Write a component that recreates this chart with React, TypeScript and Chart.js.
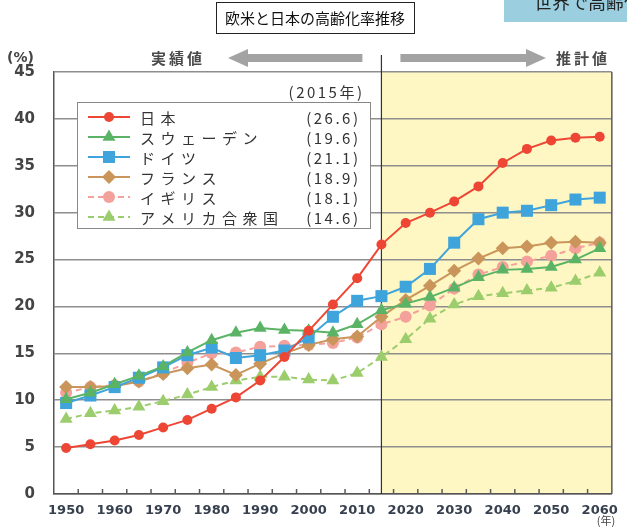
import React, { useEffect, useRef } from "react";
import { Chart, registerables } from "chart.js";
import { drawPoint } from "chart.js/helpers";

Chart.register(...registerables);

// 65歳以上人口の割合（%）
const years = [
  "1950", "1955", "1960", "1965", "1970", "1975", "1980", "1985", "1990", "1995", "2000", "2005",
  "2010", "2015", "2020", "2025", "2030", "2035", "2040", "2045", "2050", "2055", "2060",
];
const japan = [4.9, 5.3, 5.7, 6.3, 7.1, 7.9, 9.1, 10.3, 12.1, 14.6, 17.4, 20.2, 23.0, 26.6, 28.9, 30.0, 31.2, 32.8, 35.3, 36.8, 37.7, 38.0, 38.1];
const sweden = [10.1, 10.8, 11.7, 12.6, 13.6, 15.1, 16.4, 17.2, 17.7, 17.5, 17.4, 17.2, 18.1, 19.6, 20.3, 21.0, 22.0, 23.1, 23.9, 24.0, 24.2, 25.0, 26.2];
const germany = [9.7, 10.5, 11.4, 12.4, 13.5, 14.8, 15.6, 14.5, 14.8, 15.3, 16.7, 18.9, 20.6, 21.1, 22.1, 24.0, 26.8, 29.3, 30.0, 30.2, 30.8, 31.4, 31.6];
const france = [11.4, 11.4, 11.5, 12.0, 12.8, 13.4, 13.8, 12.7, 13.9, 15.0, 15.9, 16.5, 16.8, 18.9, 20.7, 22.2, 23.8, 25.1, 26.2, 26.4, 26.8, 26.9, 26.8];
const uk = [10.8, 11.4, 11.6, 12.0, 12.9, 14.0, 15.0, 15.1, 15.7, 15.8, 15.9, 16.1, 16.7, 18.1, 18.9, 20.1, 21.9, 23.4, 24.2, 24.8, 25.4, 26.2, 26.8];
const usa = [8.0, 8.6, 8.9, 9.3, 9.9, 10.6, 11.4, 12.1, 12.5, 12.5, 12.2, 12.1, 12.9, 14.6, 16.5, 18.7, 20.2, 21.1, 21.4, 21.7, 22.0, 22.7, 23.6];

const countryNames = ["日本", "スウェーデン", "ドイツ", "フランス", "イギリス", "アメリカ合衆国"];
const Y_MIN = 0;
const Y_MAX = 45;
const Y_STEP = 5;
const BASE_YEAR = "2015";

const TITLE = "欧米と日本の高齢化率推移";
const CORNER_TEXT = "世界で高齢化";
const ACTUAL_LABEL = "実績値";
const FORECAST_LABEL = "推計値";
const UNIT_Y = "(%)";
const UNIT_X = "(年)";

const JP = "'Noto Sans CJK JP', sans-serif";
const NUM = "'DejaVu Sans', sans-serif";

const seriesStyles = [
  { color: "#EE4634", point: "circle", radius: 5, dash: [] as number[] },
  { color: "#5BB466", point: "triangle", radius: 7.5, dash: [] as number[] },
  { color: "#3FA4DC", point: "rect", radius: 8.5, dash: [] as number[] },
  { color: "#C9955A", point: "rectRot", radius: 7, dash: [] as number[] },
  { color: "#F4A19B", point: "circle", radius: 6, dash: [6, 4] },
  { color: "#9BCD6D", point: "triangle", radius: 7.5, dash: [6, 4] },
];
const seriesValues = [japan, sweden, germany, france, uk, usa];

function spacedWidth(ctx: CanvasRenderingContext2D, text: string, gap: number) {
  let w = 0;
  const chars = Array.from(text);
  chars.forEach((ch, i) => {
    w += ctx.measureText(ch).width + (i < chars.length - 1 ? gap : 0);
  });
  return w;
}

function drawSpaced(ctx: CanvasRenderingContext2D, text: string, x: number, y: number, gap: number) {
  let cx = x;
  for (const ch of Array.from(text)) {
    ctx.fillText(ch, cx, y);
    cx += ctx.measureText(ch).width + gap;
  }
}

const decor = {
  id: "decor",
  beforeDraw(chart: any) {
    const { ctx, chartArea: a, scales } = chart;
    const x0 = scales.x.getPixelForValue(years.indexOf(BASE_YEAR));
    ctx.save();
    ctx.fillStyle = "#FFF7C3";
    ctx.fillRect(x0, a.top, a.right - x0, a.bottom - a.top);
    ctx.restore();
  },
  beforeDatasetsDraw(chart: any) {
    const { ctx, chartArea: a, scales } = chart;
    const xs = scales.x;
    ctx.save();
    // right frame
    ctx.strokeStyle = "#5a5a5a";
    ctx.lineWidth = 1.5;
    ctx.beginPath();
    ctx.moveTo(a.right, a.top);
    ctx.lineTo(a.right, a.bottom);
    ctx.stroke();
    // inward tick marks between categories
    for (let k = 1; k < years.length; k++) {
      const tx = (xs.getPixelForValue(k - 1) + xs.getPixelForValue(k)) / 2;
      ctx.beginPath();
      ctx.moveTo(tx, a.bottom);
      ctx.lineTo(tx, a.bottom - 5);
      ctx.stroke();
    }
    // divider between actual and projected values
    const x0 = xs.getPixelForValue(years.indexOf(BASE_YEAR));
    ctx.strokeStyle = "#333";
    ctx.lineWidth = 1.2;
    ctx.beginPath();
    ctx.moveTo(x0, 55);
    ctx.lineTo(x0, a.bottom);
    ctx.stroke();
    ctx.restore();
  },
  afterDraw(chart: any) {
    const { ctx, scales } = chart;
    const xs = scales.x;
    const x0 = xs.getPixelForValue(years.indexOf(BASE_YEAR));
    ctx.save();

    // title box
    ctx.font = `15px ${JP}`;
    ctx.textBaseline = "middle";
    ctx.textAlign = "center";
    ctx.fillStyle = "#fff";
    ctx.fillRect(216, 2, 198, 31);
    ctx.strokeStyle = "#222";
    ctx.lineWidth = 1;
    ctx.strokeRect(216.5, 2.5, 198, 31);
    ctx.fillStyle = "#111";
    ctx.fillText(TITLE, 315, 18);

    // corner box (clipped)
    ctx.save();
    ctx.beginPath();
    ctx.rect(504, 0, 123, 22);
    ctx.clip();
    ctx.fillStyle = "#9BCFE0";
    ctx.fillRect(504, 0, 123, 22);
    ctx.fillStyle = "#222";
    ctx.textAlign = "left";
    ctx.textBaseline = "alphabetic";
    ctx.font = `18px ${JP}`;
    ctx.fillText(CORNER_TEXT, 534, 9);
    ctx.restore();

    // arrows
    const ay = 58;
    ctx.fillStyle = "#A3A3A3";
    const drawArrow = (tail: number, tip: number) => {
      const dir = Math.sign(tip - tail);
      const headBase = tip - dir * 20;
      ctx.beginPath();
      ctx.moveTo(tail, ay - 4);
      ctx.lineTo(headBase, ay - 4);
      ctx.lineTo(headBase, ay - 9);
      ctx.lineTo(tip, ay);
      ctx.lineTo(headBase, ay + 9);
      ctx.lineTo(headBase, ay + 4);
      ctx.lineTo(tail, ay + 4);
      ctx.closePath();
      ctx.fill();
    };
    drawArrow(x0 - 19, 228);
    drawArrow(x0 + 19, 546);
    ctx.fillStyle = "#4a4a4a";
    ctx.font = `bold 15px ${JP}`;
    ctx.textAlign = "left";
    ctx.textBaseline = "middle";
    drawSpaced(ctx, ACTUAL_LABEL, 151, ay, 3);
    drawSpaced(ctx, FORECAST_LABEL, 556, ay, 3);

    // axis units
    ctx.fillStyle = "#444";
    ctx.font = `bold 14px ${NUM}`;
    ctx.fillText(UNIT_Y, 7, 58);
    ctx.font = `11px ${JP}`;
    ctx.textAlign = "center";
    ctx.fillText(UNIT_X, 606, 521);

    // legend
    const lx = 77, ly = 102, lw = 293, lh = 126;
    ctx.fillStyle = "#fff";
    ctx.fillRect(lx, ly, lw, lh);
    ctx.strokeStyle = "#888";
    ctx.lineWidth = 1;
    ctx.strokeRect(lx + 0.5, ly + 0.5, lw, lh);

    ctx.fillStyle = "#333";
    ctx.font = `15px ${JP}`;
    ctx.textAlign = "left";
    const head = `(${BASE_YEAR}年)`;
    drawSpaced(ctx, head, 362 - spacedWidth(ctx, head, 2.5), 92, 2.5);

    const baseIdx = years.indexOf(BASE_YEAR);
    chart.data.datasets.forEach((ds: any, i: number) => {
      const st = seriesStyles[i];
      const ry = 117 + i * 20;
      ctx.strokeStyle = st.color;
      ctx.lineWidth = 2;
      ctx.setLineDash(st.dash);
      ctx.beginPath();
      ctx.moveTo(88, ry);
      ctx.lineTo(130, ry);
      ctx.stroke();
      ctx.setLineDash([]);
      ctx.fillStyle = st.color;
      drawPoint(ctx, { pointStyle: st.point, radius: st.radius, rotation: 0, borderWidth: 0 } as any, 109, ry);

      ctx.fillStyle = "#333";
      ctx.font = `15px ${JP}`;
      ctx.textAlign = "left";
      drawSpaced(ctx, ds.label, 140, ry + 1, 5.5);
      const v = `(${Number(ds.data[baseIdx]).toFixed(1)})`;
      const w = spacedWidth(ctx, v, 2.5);
      drawSpaced(ctx, v, 358 - w, ry + 1, 2.5);
    });

    ctx.restore();
  },
};

export default function App() {
  const ref = useRef<HTMLCanvasElement | null>(null);

  useEffect(() => {
    if (!ref.current) return;
    const chart = new Chart(ref.current, {
      type: "line",
      data: {
        labels: years,
        datasets: seriesValues.map((vals, i) => ({
          label: countryNames[i],
          data: vals,
          borderColor: seriesStyles[i].color,
          backgroundColor: seriesStyles[i].color,
          borderWidth: 2,
          borderDash: seriesStyles[i].dash,
          pointStyle: seriesStyles[i].point as any,
          pointRadius: seriesStyles[i].radius,
          pointBackgroundColor: seriesStyles[i].color,
          pointBorderColor: seriesStyles[i].color,
          pointBorderWidth: 0,
          tension: 0,
          fill: false,
          clip: false as any,
        })),
      },
      options: {
        responsive: false,
        animation: false,
        events: [],
        layout: { padding: { left: 0, top: 72, right: 9, bottom: 0 } },
        plugins: { legend: { display: false }, tooltip: { enabled: false }, title: { display: false } },
        scales: {
          x: {
            type: "category",
            offset: true,
            grid: { display: false, drawTicks: false },
            border: { display: true, color: "#555", width: 1.5 },
            ticks: {
              autoSkip: false,
              maxRotation: 0,
              padding: 9,
              color: "#36404e",
              font: { family: NUM, size: 13, weight: "bold" },
              callback: (_v: any, idx: number) => (idx % 2 === 0 ? years[idx] : ""),
            },
            afterFit: (s: any) => {
              s.height = 33;
            },
          },
          y: {
            min: Y_MIN,
            max: Y_MAX,
            grid: { color: "#8e8e8e", lineWidth: 1.5, drawTicks: false },
            border: { display: true, color: "#555", width: 1.5 },
            ticks: {
              stepSize: Y_STEP,
              padding: 19,
              color: "#444",
              font: { family: NUM, size: 15, weight: "bold" },
            },
            afterFit: (s: any) => {
              s.width = 54;
            },
          },
        },
      },
      plugins: [decor],
    });
    return () => chart.destroy();
  }, []);

  return (
    <div style={{ position: "fixed", left: 0, top: 0, width: 627, height: 527, background: "#fff" }}>
      <canvas ref={ref} width={627} height={527} style={{ display: "block" }} />
    </div>
  );
}
